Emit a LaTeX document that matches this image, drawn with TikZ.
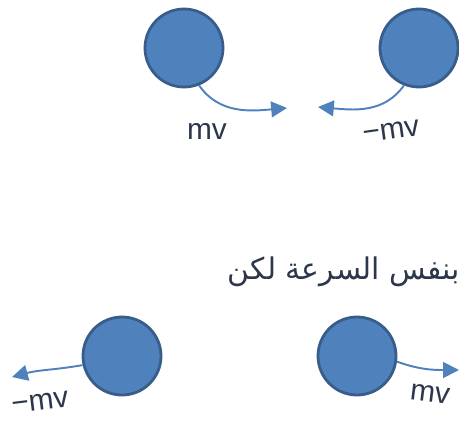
\documentclass[tikz,border=0pt]{standalone}
\usepackage{fontspec}
\setmainfont{Liberation Sans}
\newfontfamily\arabicfont[Script=Arabic]{DejaVu Sans}
\TeXXeTstate=1
\usetikzlibrary{arrows.meta,positioning}
\definecolor{ballblue}{RGB}{79,129,189}
\definecolor{balledge}{RGB}{56,93,138}
\definecolor{textgray}{RGB}{45,55,75}
\tikzset{
    % Balls
    ball/.style={
        circle,
        draw=balledge,
        line width=1.6pt,
        fill=ballblue,
        minimum size=78*0.02cm,
        inner sep=0pt
    },
    % Momentum arrows
    momentum/.style={
        -{Triangle[length=9pt,width=9pt]},
        line width=1.1pt,
        draw=ballblue
    },
    % Labels
    mvlabel/.style={
        font=\fontsize{17}{20}\selectfont,
        text=textgray,
        inner sep=1pt
    }
}
\begin{document}
\begin{tikzpicture}[x=0.02cm, y=-0.02cm]
    \useasboundingbox (0,0) rectangle (459,426);

    % Before: moving towards each other
    \node[ball] (ballA) at (184,48) {};
    \node[ball] (ballB) at (419,48) {};
    \coordinate (tipA) at (287,108);
    \coordinate (tipB) at (318,107);
    \draw[momentum] (ballA.-68) to[out=-55, in=185] (tipA);
    \draw[momentum] (ballB.-112) to[out=-125, in=-5] (tipB);
    \node[mvlabel] (mvA) at (207,131) {mv};
    \node[mvlabel, rotate=8] (mvB) at (391,131) {−mv};

    % Caption
    \node[font=\fontsize{17}{20}\selectfont, text=textgray] (note) at (344,272) {\arabicfont\beginR بنفس السرعة لكن\endR};

    % After: moving apart
    \node[ball] (ballC) at (122,356) {};
    \node[ball] (ballD) at (357,356) {};
    \coordinate (tipC) at (12,377);
    \coordinate (tipD) at (459,370);
    \draw[momentum] (ballC.193) to[out=190, in=15] (tipC);
    \draw[momentum] (ballD.-8) to[out=-20, in=180] (tipD);
    \node[mvlabel, rotate=7] (mvC) at (40,402) {−mv};
    \node[mvlabel, rotate=-7] (mvD) at (430,394) {mv};
\end{tikzpicture}
\end{document}
